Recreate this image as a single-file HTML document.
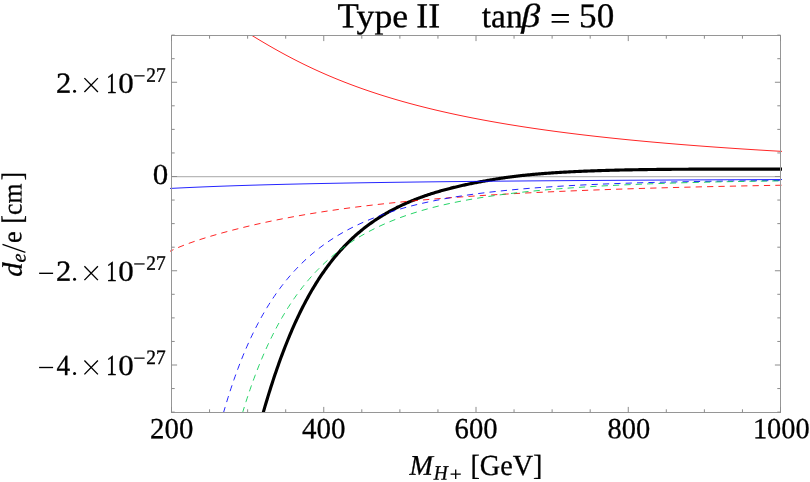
<!DOCTYPE html>
<html><head><meta charset="utf-8"><title>plot</title>
<style>
html,body{margin:0;padding:0;background:#fff;}
body{width:810px;height:482px;overflow:hidden;}
svg{display:block;will-change:transform;}
text{font-family:"Liberation Serif",serif;fill:#000;stroke:#000;stroke-width:0.3px;}
</style></head><body>
<svg width="810" height="482" viewBox="0 0 810 482">
<rect width="810" height="482" fill="#fff"/>
<defs><clipPath id="c"><rect x="170.0" y="35.5" width="612.0" height="377.3"/></clipPath></defs>
<line x1="171.5" x2="780.5" y1="176.7" y2="176.7" stroke="#b9b9b9" stroke-width="1.2"/>
<g clip-path="url(#c)" fill="none" stroke-linejoin="round">
<path d="M262.67,414.47 L263.00,413.31 L264.00,409.84 L265.00,406.41 L266.00,403.03 L267.00,399.70 L268.00,396.41 L269.00,393.16 L270.00,389.96 L271.00,386.80 L272.00,383.69 L273.00,380.62 L274.00,377.59 L275.00,374.61 L276.00,371.67 L277.00,368.76 L278.00,365.91 L279.00,363.09 L280.00,360.31 L281.00,357.57 L282.00,354.88 L283.00,352.22 L284.00,349.60 L285.00,347.01 L286.00,344.47 L287.00,341.96 L288.00,339.49 L289.00,337.06 L290.00,334.66 L291.00,332.30 L292.00,329.97 L293.00,327.68 L294.00,325.42 L295.00,323.19 L296.00,321.00 L297.00,318.84 L298.00,316.72 L299.00,314.62 L300.00,312.56 L301.00,310.52 L302.00,308.52 L303.00,306.55 L304.00,304.60 L305.00,302.69 L306.00,300.80 L307.00,298.95 L308.00,297.12 L309.00,295.31 L310.00,293.54 L311.00,291.79 L312.00,290.07 L313.00,288.37 L314.00,286.70 L315.00,285.06 L316.00,283.43 L317.00,281.84 L318.00,280.27 L319.00,278.72 L320.00,277.19 L321.00,275.69 L322.00,274.21 L323.00,272.75 L324.00,271.31 L325.00,269.90 L326.00,268.50 L327.00,267.13 L328.00,265.78 L329.00,264.45 L330.00,263.13 L331.00,261.84 L332.00,260.57 L333.00,259.31 L334.00,258.08 L335.00,256.86 L336.00,255.66 L337.00,254.48 L338.00,253.31 L339.00,252.17 L340.00,251.04 L341.00,249.92 L342.00,248.82 L343.00,247.74 L344.00,246.68 L345.00,245.63 L346.00,244.60 L347.00,243.58 L348.00,242.57 L349.00,241.58 L350.00,240.61 L351.00,239.65 L352.00,238.70 L353.00,237.77 L354.00,236.85 L355.00,235.94 L356.00,235.05 L357.00,234.17 L358.00,233.30 L359.00,232.45 L360.00,231.61 L361.00,230.78 L362.00,229.96 L363.00,229.15 L364.00,228.36 L365.00,227.57 L366.00,226.80 L367.00,226.04 L368.00,225.29 L369.00,224.55 L370.00,223.82 L371.00,223.10 L372.00,222.39 L373.00,221.69 L374.00,221.00 L375.00,220.32 L376.00,219.65 L377.00,218.99 L378.00,218.34 L379.00,217.69 L380.00,217.06 L381.00,216.44 L382.00,215.82 L383.00,215.21 L384.00,214.61 L385.00,214.02 L386.00,213.44 L387.00,212.86 L388.00,212.30 L389.00,211.74 L390.00,211.19 L391.00,210.64 L392.00,210.10 L393.00,209.57 L394.00,209.05 L395.00,208.54 L396.00,208.03 L397.00,207.53 L398.00,207.03 L399.00,206.54 L400.00,206.06 L401.00,205.59 L402.00,205.12 L403.00,204.65 L404.00,204.20 L405.00,203.75 L406.00,203.30 L407.00,202.86 L408.00,202.43 L409.00,202.00 L410.00,201.58 L411.00,201.16 L412.00,200.75 L413.00,200.34 L414.00,199.94 L415.00,199.55 L416.00,199.16 L417.00,198.77 L418.00,198.39 L419.00,198.02 L420.00,197.64 L421.00,197.28 L422.00,196.92 L423.00,196.56 L424.00,196.21 L425.00,195.86 L426.00,195.51 L427.00,195.17 L428.00,194.84 L429.00,194.51 L430.00,194.18 L431.00,193.86 L432.00,193.54 L433.00,193.22 L434.00,192.91 L435.00,192.60 L436.00,192.30 L437.00,192.00 L438.00,191.70 L439.00,191.41 L440.00,191.12 L441.00,190.83 L442.00,190.55 L443.00,190.27 L444.00,189.99 L445.00,189.72 L446.00,189.45 L447.00,189.18 L448.00,188.92 L449.00,188.66 L450.00,188.40 L451.00,188.15 L452.00,187.90 L453.00,187.65 L454.00,187.40 L455.00,187.16 L456.00,186.92 L457.00,186.68 L458.00,186.45 L459.00,186.21 L460.00,185.98 L461.00,185.76 L462.00,185.53 L463.00,185.31 L464.00,185.09 L465.00,184.87 L466.00,184.66 L467.00,184.45 L468.00,184.24 L469.00,184.03 L470.00,183.82 L471.00,183.62 L472.00,183.41 L473.00,183.21 L474.00,183.01 L475.00,182.82 L476.00,182.62 L477.00,182.43 L478.00,182.24 L479.00,182.04 L480.00,181.86 L481.00,181.67 L482.00,181.48 L483.00,181.30 L484.00,181.12 L485.00,180.93 L486.00,180.76 L487.00,180.58 L488.00,180.40 L489.00,180.23 L490.00,180.06 L491.00,179.88 L492.00,179.72 L493.00,179.55 L494.00,179.38 L495.00,179.22 L496.00,179.06 L497.00,178.90 L498.00,178.74 L499.00,178.58 L500.00,178.43 L501.00,178.27 L502.00,178.12 L503.00,177.97 L504.00,177.83 L505.00,177.68 L506.00,177.54 L507.00,177.40 L508.00,177.26 L509.00,177.12 L510.00,176.99 L511.00,176.86 L512.00,176.73 L513.00,176.60 L514.00,176.47 L515.00,176.35 L516.00,176.22 L517.00,176.10 L518.00,175.99 L519.00,175.87 L520.00,175.76 L521.00,175.64 L522.00,175.53 L523.00,175.42 L524.00,175.32 L525.00,175.21 L526.00,175.11 L527.00,175.01 L528.00,174.91 L529.00,174.81 L530.00,174.72 L531.00,174.62 L532.00,174.53 L533.00,174.44 L534.00,174.35 L535.00,174.26 L536.00,174.17 L537.00,174.09 L538.00,174.00 L539.00,173.92 L540.00,173.84 L541.00,173.76 L542.00,173.68 L543.00,173.60 L544.00,173.52 L545.00,173.44 L546.00,173.37 L547.00,173.29 L548.00,173.22 L549.00,173.14 L550.00,173.07 L551.00,173.00 L552.00,172.93 L553.00,172.87 L554.00,172.80 L555.00,172.73 L556.00,172.67 L557.00,172.60 L558.00,172.54 L559.00,172.48 L560.00,172.42 L561.00,172.36 L562.00,172.30 L563.00,172.24 L564.00,172.18 L565.00,172.12 L566.00,172.07 L567.00,172.01 L568.00,171.96 L569.00,171.90 L570.00,171.85 L571.00,171.80 L572.00,171.75 L573.00,171.70 L574.00,171.65 L575.00,171.60 L576.00,171.55 L577.00,171.50 L578.00,171.46 L579.00,171.41 L580.00,171.37 L581.00,171.32 L582.00,171.28 L583.00,171.24 L584.00,171.19 L585.00,171.15 L586.00,171.11 L587.00,171.07 L588.00,171.03 L589.00,170.99 L590.00,170.95 L591.00,170.92 L592.00,170.88 L593.00,170.84 L594.00,170.81 L595.00,170.77 L596.00,170.74 L597.00,170.70 L598.00,170.67 L599.00,170.64 L600.00,170.60 L601.00,170.57 L602.00,170.54 L603.00,170.51 L604.00,170.48 L605.00,170.45 L606.00,170.42 L607.00,170.39 L608.00,170.36 L609.00,170.33 L610.00,170.30 L611.00,170.28 L612.00,170.25 L613.00,170.22 L614.00,170.20 L615.00,170.17 L616.00,170.15 L617.00,170.12 L618.00,170.10 L619.00,170.08 L620.00,170.05 L621.00,170.03 L622.00,170.01 L623.00,169.99 L624.00,169.97 L625.00,169.94 L626.00,169.92 L627.00,169.90 L628.00,169.88 L629.00,169.86 L630.00,169.84 L631.00,169.82 L632.00,169.81 L633.00,169.79 L634.00,169.77 L635.00,169.75 L636.00,169.73 L637.00,169.72 L638.00,169.70 L639.00,169.68 L640.00,169.67 L641.00,169.65 L642.00,169.64 L643.00,169.62 L644.00,169.61 L645.00,169.59 L646.00,169.58 L647.00,169.57 L648.00,169.55 L649.00,169.54 L650.00,169.53 L651.00,169.51 L652.00,169.50 L653.00,169.49 L654.00,169.48 L655.00,169.46 L656.00,169.45 L657.00,169.44 L658.00,169.43 L659.00,169.42 L660.00,169.41 L661.00,169.40 L662.00,169.39 L663.00,169.38 L664.00,169.37 L665.00,169.36 L666.00,169.35 L667.00,169.34 L668.00,169.33 L669.00,169.32 L670.00,169.31 L671.00,169.31 L672.00,169.30 L673.00,169.29 L674.00,169.28 L675.00,169.28 L676.00,169.27 L677.00,169.26 L678.00,169.25 L679.00,169.25 L680.00,169.24 L681.00,169.23 L682.00,169.23 L683.00,169.22 L684.00,169.22 L685.00,169.21 L686.00,169.21 L687.00,169.20 L688.00,169.20 L689.00,169.19 L690.00,169.19 L691.00,169.18 L692.00,169.18 L693.00,169.17 L694.00,169.17 L695.00,169.16 L696.00,169.16 L697.00,169.15 L698.00,169.15 L699.00,169.15 L700.00,169.14 L701.00,169.14 L702.00,169.14 L703.00,169.13 L704.00,169.13 L705.00,169.13 L706.00,169.13 L707.00,169.12 L708.00,169.12 L709.00,169.12 L710.00,169.12 L711.00,169.11 L712.00,169.11 L713.00,169.11 L714.00,169.11 L715.00,169.11 L716.00,169.10 L717.00,169.10 L718.00,169.10 L719.00,169.10 L720.00,169.10 L721.00,169.10 L722.00,169.10 L723.00,169.10 L724.00,169.09 L725.00,169.09 L726.00,169.09 L727.00,169.09 L728.00,169.09 L729.00,169.09 L730.00,169.09 L731.00,169.09 L732.00,169.09 L733.00,169.09 L734.00,169.09 L735.00,169.09 L736.00,169.09 L737.00,169.09 L738.00,169.09 L739.00,169.09 L740.00,169.09 L741.00,169.09 L742.00,169.09 L743.00,169.09 L744.00,169.09 L745.00,169.09 L746.00,169.09 L747.00,169.09 L748.00,169.09 L749.00,169.10 L750.00,169.10 L751.00,169.10 L752.00,169.10 L753.00,169.10 L754.00,169.10 L755.00,169.10 L756.00,169.10 L757.00,169.10 L758.00,169.11 L759.00,169.11 L760.00,169.11 L761.00,169.11 L762.00,169.11 L763.00,169.11 L764.00,169.11 L765.00,169.12 L766.00,169.12 L767.00,169.12 L768.00,169.12 L769.00,169.12 L770.00,169.12 L771.00,169.13 L772.00,169.13 L773.00,169.13 L774.00,169.13 L775.00,169.13 L776.00,169.14 L777.00,169.14 L778.00,169.14 L779.00,169.14 L780.00,169.14 L781.00,169.15 L782.00,169.15" stroke="#000" stroke-width="3.15"/>
<path d="M251.18,35.00 L252.00,35.51 L253.00,36.12 L254.00,36.73 L255.00,37.33 L256.00,37.94 L257.00,38.55 L258.00,39.15 L259.00,39.75 L260.00,40.35 L261.00,40.95 L262.00,41.54 L263.00,42.13 L264.00,42.72 L265.00,43.31 L266.00,43.90 L267.00,44.48 L268.00,45.07 L269.00,45.65 L270.00,46.22 L271.00,46.80 L272.00,47.37 L273.00,47.94 L274.00,48.51 L275.00,49.08 L276.00,49.64 L277.00,50.20 L278.00,50.76 L279.00,51.32 L280.00,51.87 L281.00,52.42 L282.00,52.97 L283.00,53.51 L284.00,54.06 L285.00,54.60 L286.00,55.14 L287.00,55.67 L288.00,56.20 L289.00,56.73 L290.00,57.26 L291.00,57.79 L292.00,58.31 L293.00,58.83 L294.00,59.34 L295.00,59.86 L296.00,60.37 L297.00,60.88 L298.00,61.38 L299.00,61.89 L300.00,62.39 L301.00,62.89 L302.00,63.38 L303.00,63.88 L304.00,64.37 L305.00,64.85 L306.00,65.34 L307.00,65.82 L308.00,66.30 L309.00,66.78 L310.00,67.25 L311.00,67.73 L312.00,68.20 L313.00,68.66 L314.00,69.13 L315.00,69.59 L316.00,70.05 L317.00,70.51 L318.00,70.96 L319.00,71.41 L320.00,71.86 L321.00,72.31 L322.00,72.75 L323.00,73.20 L324.00,73.64 L325.00,74.07 L326.00,74.51 L327.00,74.94 L328.00,75.37 L329.00,75.80 L330.00,76.22 L331.00,76.64 L332.00,77.06 L333.00,77.48 L334.00,77.90 L335.00,78.31 L336.00,78.72 L337.00,79.13 L338.00,79.54 L339.00,79.94 L340.00,80.34 L341.00,80.74 L342.00,81.14 L343.00,81.53 L344.00,81.93 L345.00,82.32 L346.00,82.70 L347.00,83.09 L348.00,83.47 L349.00,83.86 L350.00,84.24 L351.00,84.61 L352.00,84.99 L353.00,85.36 L354.00,85.73 L355.00,86.10 L356.00,86.47 L357.00,86.83 L358.00,87.20 L359.00,87.56 L360.00,87.91 L361.00,88.27 L362.00,88.63 L363.00,88.98 L364.00,89.33 L365.00,89.68 L366.00,90.02 L367.00,90.37 L368.00,90.71 L369.00,91.05 L370.00,91.39 L371.00,91.73 L372.00,92.06 L373.00,92.40 L374.00,92.73 L375.00,93.06 L376.00,93.39 L377.00,93.71 L378.00,94.04 L379.00,94.36 L380.00,94.68 L381.00,95.00 L382.00,95.31 L383.00,95.63 L384.00,95.94 L385.00,96.25 L386.00,96.56 L387.00,96.87 L388.00,97.18 L389.00,97.48 L390.00,97.79 L391.00,98.09 L392.00,98.39 L393.00,98.69 L394.00,98.98 L395.00,99.28 L396.00,99.57 L397.00,99.86 L398.00,100.15 L399.00,100.44 L400.00,100.73 L401.00,101.01 L402.00,101.30 L403.00,101.58 L404.00,101.86 L405.00,102.14 L406.00,102.42 L407.00,102.70 L408.00,102.97 L409.00,103.24 L410.00,103.52 L411.00,103.79 L412.00,104.05 L413.00,104.32 L414.00,104.59 L415.00,104.85 L416.00,105.12 L417.00,105.38 L418.00,105.64 L419.00,105.90 L420.00,106.15 L421.00,106.41 L422.00,106.67 L423.00,106.92 L424.00,107.17 L425.00,107.42 L426.00,107.67 L427.00,107.92 L428.00,108.17 L429.00,108.41 L430.00,108.66 L431.00,108.90 L432.00,109.14 L433.00,109.38 L434.00,109.62 L435.00,109.86 L436.00,110.10 L437.00,110.33 L438.00,110.57 L439.00,110.80 L440.00,111.03 L441.00,111.26 L442.00,111.49 L443.00,111.72 L444.00,111.95 L445.00,112.17 L446.00,112.40 L447.00,112.62 L448.00,112.84 L449.00,113.07 L450.00,113.29 L451.00,113.50 L452.00,113.72 L453.00,113.94 L454.00,114.16 L455.00,114.37 L456.00,114.58 L457.00,114.80 L458.00,115.01 L459.00,115.22 L460.00,115.43 L461.00,115.64 L462.00,115.84 L463.00,116.05 L464.00,116.25 L465.00,116.46 L466.00,116.66 L467.00,116.86 L468.00,117.07 L469.00,117.27 L470.00,117.46 L471.00,117.66 L472.00,117.86 L473.00,118.06 L474.00,118.25 L475.00,118.45 L476.00,118.64 L477.00,118.83 L478.00,119.02 L479.00,119.21 L480.00,119.40 L481.00,119.59 L482.00,119.78 L483.00,119.97 L484.00,120.15 L485.00,120.34 L486.00,120.52 L487.00,120.70 L488.00,120.89 L489.00,121.07 L490.00,121.25 L491.00,121.43 L492.00,121.61 L493.00,121.78 L494.00,121.96 L495.00,122.14 L496.00,122.31 L497.00,122.49 L498.00,122.66 L499.00,122.84 L500.00,123.01 L501.00,123.18 L502.00,123.35 L503.00,123.52 L504.00,123.69 L505.00,123.86 L506.00,124.02 L507.00,124.19 L508.00,124.36 L509.00,124.52 L510.00,124.68 L511.00,124.85 L512.00,125.01 L513.00,125.17 L514.00,125.33 L515.00,125.49 L516.00,125.65 L517.00,125.81 L518.00,125.97 L519.00,126.13 L520.00,126.29 L521.00,126.44 L522.00,126.60 L523.00,126.75 L524.00,126.91 L525.00,127.06 L526.00,127.21 L527.00,127.36 L528.00,127.51 L529.00,127.67 L530.00,127.81 L531.00,127.96 L532.00,128.11 L533.00,128.26 L534.00,128.41 L535.00,128.55 L536.00,128.70 L537.00,128.84 L538.00,128.99 L539.00,129.13 L540.00,129.28 L541.00,129.42 L542.00,129.56 L543.00,129.70 L544.00,129.84 L545.00,129.98 L546.00,130.12 L547.00,130.26 L548.00,130.40 L549.00,130.54 L550.00,130.67 L551.00,130.81 L552.00,130.95 L553.00,131.08 L554.00,131.22 L555.00,131.35 L556.00,131.48 L557.00,131.62 L558.00,131.75 L559.00,131.88 L560.00,132.01 L561.00,132.14 L562.00,132.27 L563.00,132.40 L564.00,132.53 L565.00,132.66 L566.00,132.79 L567.00,132.91 L568.00,133.04 L569.00,133.17 L570.00,133.29 L571.00,133.42 L572.00,133.54 L573.00,133.67 L574.00,133.79 L575.00,133.91 L576.00,134.03 L577.00,134.16 L578.00,134.28 L579.00,134.40 L580.00,134.52 L581.00,134.64 L582.00,134.76 L583.00,134.88 L584.00,135.00 L585.00,135.11 L586.00,135.23 L587.00,135.35 L588.00,135.46 L589.00,135.58 L590.00,135.70 L591.00,135.81 L592.00,135.93 L593.00,136.04 L594.00,136.15 L595.00,136.27 L596.00,136.38 L597.00,136.49 L598.00,136.60 L599.00,136.71 L600.00,136.82 L601.00,136.93 L602.00,137.04 L603.00,137.15 L604.00,137.26 L605.00,137.37 L606.00,137.48 L607.00,137.59 L608.00,137.70 L609.00,137.80 L610.00,137.91 L611.00,138.01 L612.00,138.12 L613.00,138.23 L614.00,138.33 L615.00,138.43 L616.00,138.54 L617.00,138.64 L618.00,138.74 L619.00,138.85 L620.00,138.95 L621.00,139.05 L622.00,139.15 L623.00,139.25 L624.00,139.35 L625.00,139.45 L626.00,139.55 L627.00,139.65 L628.00,139.75 L629.00,139.85 L630.00,139.95 L631.00,140.05 L632.00,140.15 L633.00,140.24 L634.00,140.34 L635.00,140.44 L636.00,140.53 L637.00,140.63 L638.00,140.72 L639.00,140.82 L640.00,140.91 L641.00,141.01 L642.00,141.10 L643.00,141.19 L644.00,141.29 L645.00,141.38 L646.00,141.47 L647.00,141.56 L648.00,141.66 L649.00,141.75 L650.00,141.84 L651.00,141.93 L652.00,142.02 L653.00,142.11 L654.00,142.20 L655.00,142.29 L656.00,142.38 L657.00,142.47 L658.00,142.55 L659.00,142.64 L660.00,142.73 L661.00,142.82 L662.00,142.90 L663.00,142.99 L664.00,143.08 L665.00,143.16 L666.00,143.25 L667.00,143.33 L668.00,143.42 L669.00,143.50 L670.00,143.59 L671.00,143.67 L672.00,143.76 L673.00,143.84 L674.00,143.92 L675.00,144.01 L676.00,144.09 L677.00,144.17 L678.00,144.25 L679.00,144.33 L680.00,144.42 L681.00,144.50 L682.00,144.58 L683.00,144.66 L684.00,144.74 L685.00,144.82 L686.00,144.90 L687.00,144.98 L688.00,145.06 L689.00,145.13 L690.00,145.21 L691.00,145.29 L692.00,145.37 L693.00,145.45 L694.00,145.52 L695.00,145.60 L696.00,145.68 L697.00,145.75 L698.00,145.83 L699.00,145.91 L700.00,145.98 L701.00,146.06 L702.00,146.13 L703.00,146.21 L704.00,146.28 L705.00,146.36 L706.00,146.43 L707.00,146.51 L708.00,146.58 L709.00,146.65 L710.00,146.73 L711.00,146.80 L712.00,146.87 L713.00,146.94 L714.00,147.02 L715.00,147.09 L716.00,147.16 L717.00,147.23 L718.00,147.30 L719.00,147.37 L720.00,147.44 L721.00,147.51 L722.00,147.58 L723.00,147.65 L724.00,147.72 L725.00,147.79 L726.00,147.86 L727.00,147.93 L728.00,148.00 L729.00,148.07 L730.00,148.14 L731.00,148.20 L732.00,148.27 L733.00,148.34 L734.00,148.41 L735.00,148.47 L736.00,148.54 L737.00,148.61 L738.00,148.67 L739.00,148.74 L740.00,148.81 L741.00,148.87 L742.00,148.94 L743.00,149.00 L744.00,149.07 L745.00,149.13 L746.00,149.20 L747.00,149.26 L748.00,149.32 L749.00,149.39 L750.00,149.45 L751.00,149.52 L752.00,149.58 L753.00,149.64 L754.00,149.71 L755.00,149.77 L756.00,149.83 L757.00,149.89 L758.00,149.96 L759.00,150.02 L760.00,150.08 L761.00,150.14 L762.00,150.20 L763.00,150.26 L764.00,150.32 L765.00,150.38 L766.00,150.44 L767.00,150.51 L768.00,150.57 L769.00,150.63 L770.00,150.68 L771.00,150.74 L772.00,150.80 L773.00,150.86 L774.00,150.92 L775.00,150.98 L776.00,151.04 L777.00,151.10 L778.00,151.16 L779.00,151.21 L780.00,151.27 L781.00,151.33 L782.00,151.39" stroke="#ff0000" stroke-width="0.86"/>
<path d="M170.00,188.45 L171.00,188.40 L172.00,188.35 L173.00,188.30 L174.00,188.25 L175.00,188.20 L176.00,188.15 L177.00,188.10 L178.00,188.05 L179.00,188.00 L180.00,187.95 L181.00,187.90 L182.00,187.86 L183.00,187.81 L184.00,187.76 L185.00,187.71 L186.00,187.67 L187.00,187.62 L188.00,187.58 L189.00,187.53 L190.00,187.48 L191.00,187.44 L192.00,187.39 L193.00,187.35 L194.00,187.31 L195.00,187.26 L196.00,187.22 L197.00,187.17 L198.00,187.13 L199.00,187.09 L200.00,187.05 L201.00,187.00 L202.00,186.96 L203.00,186.92 L204.00,186.88 L205.00,186.84 L206.00,186.80 L207.00,186.76 L208.00,186.72 L209.00,186.68 L210.00,186.64 L211.00,186.60 L212.00,186.56 L213.00,186.52 L214.00,186.48 L215.00,186.44 L216.00,186.41 L217.00,186.37 L218.00,186.33 L219.00,186.29 L220.00,186.26 L221.00,186.22 L222.00,186.18 L223.00,186.15 L224.00,186.11 L225.00,186.08 L226.00,186.04 L227.00,186.00 L228.00,185.97 L229.00,185.94 L230.00,185.90 L231.00,185.87 L232.00,185.83 L233.00,185.80 L234.00,185.76 L235.00,185.73 L236.00,185.70 L237.00,185.67 L238.00,185.63 L239.00,185.60 L240.00,185.57 L241.00,185.54 L242.00,185.50 L243.00,185.47 L244.00,185.44 L245.00,185.41 L246.00,185.38 L247.00,185.35 L248.00,185.32 L249.00,185.29 L250.00,185.26 L251.00,185.23 L252.00,185.20 L253.00,185.17 L254.00,185.14 L255.00,185.11 L256.00,185.08 L257.00,185.05 L258.00,185.02 L259.00,184.99 L260.00,184.96 L261.00,184.94 L262.00,184.91 L263.00,184.88 L264.00,184.85 L265.00,184.82 L266.00,184.80 L267.00,184.77 L268.00,184.74 L269.00,184.72 L270.00,184.69 L271.00,184.66 L272.00,184.64 L273.00,184.61 L274.00,184.58 L275.00,184.56 L276.00,184.53 L277.00,184.51 L278.00,184.48 L279.00,184.46 L280.00,184.43 L281.00,184.41 L282.00,184.38 L283.00,184.36 L284.00,184.33 L285.00,184.31 L286.00,184.28 L287.00,184.26 L288.00,184.24 L289.00,184.21 L290.00,184.19 L291.00,184.16 L292.00,184.14 L293.00,184.12 L294.00,184.10 L295.00,184.07 L296.00,184.05 L297.00,184.03 L298.00,184.00 L299.00,183.98 L300.00,183.96 L301.00,183.94 L302.00,183.92 L303.00,183.89 L304.00,183.87 L305.00,183.85 L306.00,183.83 L307.00,183.81 L308.00,183.79 L309.00,183.76 L310.00,183.74 L311.00,183.72 L312.00,183.70 L313.00,183.68 L314.00,183.66 L315.00,183.64 L316.00,183.62 L317.00,183.60 L318.00,183.58 L319.00,183.56 L320.00,183.54 L321.00,183.52 L322.00,183.50 L323.00,183.48 L324.00,183.46 L325.00,183.44 L326.00,183.42 L327.00,183.40 L328.00,183.38 L329.00,183.36 L330.00,183.35 L331.00,183.33 L332.00,183.31 L333.00,183.29 L334.00,183.27 L335.00,183.25 L336.00,183.23 L337.00,183.22 L338.00,183.20 L339.00,183.18 L340.00,183.16 L341.00,183.15 L342.00,183.13 L343.00,183.11 L344.00,183.09 L345.00,183.07 L346.00,183.06 L347.00,183.04 L348.00,183.02 L349.00,183.01 L350.00,182.99 L351.00,182.97 L352.00,182.96 L353.00,182.94 L354.00,182.92 L355.00,182.91 L356.00,182.89 L357.00,182.87 L358.00,182.86 L359.00,182.84 L360.00,182.82 L361.00,182.81 L362.00,182.79 L363.00,182.78 L364.00,182.76 L365.00,182.74 L366.00,182.73 L367.00,182.71 L368.00,182.70 L369.00,182.68 L370.00,182.67 L371.00,182.65 L372.00,182.64 L373.00,182.62 L374.00,182.61 L375.00,182.59 L376.00,182.58 L377.00,182.56 L378.00,182.55 L379.00,182.53 L380.00,182.52 L381.00,182.50 L382.00,182.49 L383.00,182.47 L384.00,182.46 L385.00,182.44 L386.00,182.43 L387.00,182.42 L388.00,182.40 L389.00,182.39 L390.00,182.37 L391.00,182.36 L392.00,182.35 L393.00,182.33 L394.00,182.32 L395.00,182.31 L396.00,182.29 L397.00,182.28 L398.00,182.27 L399.00,182.25 L400.00,182.24 L401.00,182.23 L402.00,182.21 L403.00,182.20 L404.00,182.19 L405.00,182.17 L406.00,182.16 L407.00,182.15 L408.00,182.13 L409.00,182.12 L410.00,182.11 L411.00,182.10 L412.00,182.08 L413.00,182.07 L414.00,182.06 L415.00,182.05 L416.00,182.03 L417.00,182.02 L418.00,182.01 L419.00,182.00 L420.00,181.98 L421.00,181.97 L422.00,181.96 L423.00,181.95 L424.00,181.94 L425.00,181.92 L426.00,181.91 L427.00,181.90 L428.00,181.89 L429.00,181.88 L430.00,181.86 L431.00,181.85 L432.00,181.84 L433.00,181.83 L434.00,181.82 L435.00,181.81 L436.00,181.80 L437.00,181.78 L438.00,181.77 L439.00,181.76 L440.00,181.75 L441.00,181.74 L442.00,181.73 L443.00,181.72 L444.00,181.71 L445.00,181.70 L446.00,181.68 L447.00,181.67 L448.00,181.66 L449.00,181.65 L450.00,181.64 L451.00,181.63 L452.00,181.62 L453.00,181.61 L454.00,181.60 L455.00,181.59 L456.00,181.58 L457.00,181.57 L458.00,181.56 L459.00,181.55 L460.00,181.54 L461.00,181.53 L462.00,181.52 L463.00,181.51 L464.00,181.50 L465.00,181.49 L466.00,181.48 L467.00,181.47 L468.00,181.46 L469.00,181.45 L470.00,181.44 L471.00,181.43 L472.00,181.42 L473.00,181.41 L474.00,181.40 L475.00,181.39 L476.00,181.38 L477.00,181.37 L478.00,181.36 L479.00,181.35 L480.00,181.34 L481.00,181.33 L482.00,181.32 L483.00,181.31 L484.00,181.30 L485.00,181.29 L486.00,181.28 L487.00,181.27 L488.00,181.26 L489.00,181.26 L490.00,181.25 L491.00,181.24 L492.00,181.23 L493.00,181.22 L494.00,181.21 L495.00,181.20 L496.00,181.19 L497.00,181.18 L498.00,181.17 L499.00,181.17 L500.00,181.16 L501.00,181.15 L502.00,181.14 L503.00,181.13 L504.00,181.12 L505.00,181.11 L506.00,181.10 L507.00,181.10 L508.00,181.09 L509.00,181.08 L510.00,181.07 L511.00,181.06 L512.00,181.05 L513.00,181.05 L514.00,181.04 L515.00,181.03 L516.00,181.02 L517.00,181.01 L518.00,181.00 L519.00,181.00 L520.00,180.99 L521.00,180.98 L522.00,180.97 L523.00,180.96 L524.00,180.96 L525.00,180.95 L526.00,180.94 L527.00,180.93 L528.00,180.92 L529.00,180.92 L530.00,180.91 L531.00,180.90 L532.00,180.89 L533.00,180.88 L534.00,180.88 L535.00,180.87 L536.00,180.86 L537.00,180.85 L538.00,180.85 L539.00,180.84 L540.00,180.83 L541.00,180.82 L542.00,180.81 L543.00,180.81 L544.00,180.80 L545.00,180.79 L546.00,180.78 L547.00,180.78 L548.00,180.77 L549.00,180.76 L550.00,180.76 L551.00,180.75 L552.00,180.74 L553.00,180.73 L554.00,180.73 L555.00,180.72 L556.00,180.71 L557.00,180.70 L558.00,180.70 L559.00,180.69 L560.00,180.68 L561.00,180.68 L562.00,180.67 L563.00,180.66 L564.00,180.65 L565.00,180.65 L566.00,180.64 L567.00,180.63 L568.00,180.63 L569.00,180.62 L570.00,180.61 L571.00,180.61 L572.00,180.60 L573.00,180.59 L574.00,180.59 L575.00,180.58 L576.00,180.57 L577.00,180.57 L578.00,180.56 L579.00,180.55 L580.00,180.55 L581.00,180.54 L582.00,180.53 L583.00,180.53 L584.00,180.52 L585.00,180.51 L586.00,180.51 L587.00,180.50 L588.00,180.49 L589.00,180.49 L590.00,180.48 L591.00,180.47 L592.00,180.47 L593.00,180.46 L594.00,180.46 L595.00,180.45 L596.00,180.44 L597.00,180.44 L598.00,180.43 L599.00,180.42 L600.00,180.42 L601.00,180.41 L602.00,180.40 L603.00,180.40 L604.00,180.39 L605.00,180.39 L606.00,180.38 L607.00,180.37 L608.00,180.37 L609.00,180.36 L610.00,180.36 L611.00,180.35 L612.00,180.34 L613.00,180.34 L614.00,180.33 L615.00,180.33 L616.00,180.32 L617.00,180.31 L618.00,180.31 L619.00,180.30 L620.00,180.30 L621.00,180.29 L622.00,180.29 L623.00,180.28 L624.00,180.27 L625.00,180.27 L626.00,180.26 L627.00,180.26 L628.00,180.25 L629.00,180.24 L630.00,180.24 L631.00,180.23 L632.00,180.23 L633.00,180.22 L634.00,180.22 L635.00,180.21 L636.00,180.21 L637.00,180.20 L638.00,180.19 L639.00,180.19 L640.00,180.18 L641.00,180.18 L642.00,180.17 L643.00,180.17 L644.00,180.16 L645.00,180.16 L646.00,180.15 L647.00,180.15 L648.00,180.14 L649.00,180.13 L650.00,180.13 L651.00,180.12 L652.00,180.12 L653.00,180.11 L654.00,180.11 L655.00,180.10 L656.00,180.10 L657.00,180.09 L658.00,180.09 L659.00,180.08 L660.00,180.08 L661.00,180.07 L662.00,180.07 L663.00,180.06 L664.00,180.06 L665.00,180.05 L666.00,180.05 L667.00,180.04 L668.00,180.04 L669.00,180.03 L670.00,180.03 L671.00,180.02 L672.00,180.02 L673.00,180.01 L674.00,180.01 L675.00,180.00 L676.00,180.00 L677.00,179.99 L678.00,179.99 L679.00,179.98 L680.00,179.98 L681.00,179.97 L682.00,179.97 L683.00,179.96 L684.00,179.96 L685.00,179.95 L686.00,179.95 L687.00,179.94 L688.00,179.94 L689.00,179.93 L690.00,179.93 L691.00,179.92 L692.00,179.92 L693.00,179.91 L694.00,179.91 L695.00,179.90 L696.00,179.90 L697.00,179.89 L698.00,179.89 L699.00,179.89 L700.00,179.88 L701.00,179.88 L702.00,179.87 L703.00,179.87 L704.00,179.86 L705.00,179.86 L706.00,179.85 L707.00,179.85 L708.00,179.84 L709.00,179.84 L710.00,179.83 L711.00,179.83 L712.00,179.83 L713.00,179.82 L714.00,179.82 L715.00,179.81 L716.00,179.81 L717.00,179.80 L718.00,179.80 L719.00,179.79 L720.00,179.79 L721.00,179.79 L722.00,179.78 L723.00,179.78 L724.00,179.77 L725.00,179.77 L726.00,179.76 L727.00,179.76 L728.00,179.76 L729.00,179.75 L730.00,179.75 L731.00,179.74 L732.00,179.74 L733.00,179.73 L734.00,179.73 L735.00,179.73 L736.00,179.72 L737.00,179.72 L738.00,179.71 L739.00,179.71 L740.00,179.71 L741.00,179.70 L742.00,179.70 L743.00,179.69 L744.00,179.69 L745.00,179.68 L746.00,179.68 L747.00,179.68 L748.00,179.67 L749.00,179.67 L750.00,179.66 L751.00,179.66 L752.00,179.66 L753.00,179.65 L754.00,179.65 L755.00,179.64 L756.00,179.64 L757.00,179.64 L758.00,179.63 L759.00,179.63 L760.00,179.62 L761.00,179.62 L762.00,179.62 L763.00,179.61 L764.00,179.61 L765.00,179.60 L766.00,179.60 L767.00,179.60 L768.00,179.59 L769.00,179.59 L770.00,179.58 L771.00,179.58 L772.00,179.58 L773.00,179.57 L774.00,179.57 L775.00,179.57 L776.00,179.56 L777.00,179.56 L778.00,179.55 L779.00,179.55 L780.00,179.55 L781.00,179.54 L782.00,179.54" stroke="#0000ff" stroke-width="0.86"/>
<path d="M170.00,251.30 L171.00,250.81 L172.00,250.32 L173.00,249.85 L174.00,249.39 L175.00,248.93 L176.00,248.49 L177.00,248.05 L178.00,247.62 L179.00,247.20 L180.00,246.78 L181.00,246.38 L182.00,245.97 L183.00,245.58 L184.00,245.19 L185.00,244.81 L186.00,244.43 L187.00,244.05 L188.00,243.68 L189.00,243.32 L190.00,242.96 L191.00,242.60 L192.00,242.25 L193.00,241.90 L194.00,241.56 L195.00,241.21 L196.00,240.88 L197.00,240.54 L198.00,240.21 L199.00,239.88 L200.00,239.55 L201.00,239.23 L202.00,238.91 L203.00,238.59 L204.00,238.28 L205.00,237.97 L206.00,237.66 L207.00,237.35 L208.00,237.04 L209.00,236.74 L210.00,236.44 L211.00,236.14 L212.00,235.84 L213.00,235.55 L214.00,235.26 L215.00,234.96 L216.00,234.68 L217.00,234.39 L218.00,234.10 L219.00,233.82 L220.00,233.54 L221.00,233.26 L222.00,232.98 L223.00,232.70 L224.00,232.43 L225.00,232.16 L226.00,231.88 L227.00,231.61 L228.00,231.35 L229.00,231.08 L230.00,230.81 L231.00,230.55 L232.00,230.29 L233.00,230.03 L234.00,229.77 L235.00,229.51 L236.00,229.25 L237.00,229.00 L238.00,228.75 L239.00,228.49 L240.00,228.24 L241.00,227.99 L242.00,227.75 L243.00,227.50 L244.00,227.26 L245.00,227.01 L246.00,226.77 L247.00,226.53 L248.00,226.29 L249.00,226.05 L250.00,225.82 L251.00,225.58 L252.00,225.35 L253.00,225.11 L254.00,224.88 L255.00,224.65 L256.00,224.42 L257.00,224.20 L258.00,223.97 L259.00,223.74 L260.00,223.52 L261.00,223.30 L262.00,223.08 L263.00,222.86 L264.00,222.64 L265.00,222.42 L266.00,222.20 L267.00,221.99 L268.00,221.78 L269.00,221.56 L270.00,221.35 L271.00,221.14 L272.00,220.93 L273.00,220.72 L274.00,220.52 L275.00,220.31 L276.00,220.11 L277.00,219.91 L278.00,219.70 L279.00,219.50 L280.00,219.30 L281.00,219.10 L282.00,218.91 L283.00,218.71 L284.00,218.52 L285.00,218.32 L286.00,218.13 L287.00,217.94 L288.00,217.75 L289.00,217.56 L290.00,217.37 L291.00,217.18 L292.00,216.99 L293.00,216.81 L294.00,216.63 L295.00,216.44 L296.00,216.26 L297.00,216.08 L298.00,215.90 L299.00,215.72 L300.00,215.54 L301.00,215.37 L302.00,215.19 L303.00,215.02 L304.00,214.84 L305.00,214.67 L306.00,214.50 L307.00,214.33 L308.00,214.16 L309.00,213.99 L310.00,213.82 L311.00,213.65 L312.00,213.49 L313.00,213.32 L314.00,213.16 L315.00,213.00 L316.00,212.83 L317.00,212.67 L318.00,212.51 L319.00,212.35 L320.00,212.20 L321.00,212.04 L322.00,211.88 L323.00,211.73 L324.00,211.57 L325.00,211.42 L326.00,211.27 L327.00,211.11 L328.00,210.96 L329.00,210.81 L330.00,210.66 L331.00,210.52 L332.00,210.37 L333.00,210.22 L334.00,210.08 L335.00,209.93 L336.00,209.79 L337.00,209.64 L338.00,209.50 L339.00,209.36 L340.00,209.22 L341.00,209.08 L342.00,208.94 L343.00,208.80 L344.00,208.66 L345.00,208.53 L346.00,208.39 L347.00,208.26 L348.00,208.12 L349.00,207.99 L350.00,207.85 L351.00,207.72 L352.00,207.59 L353.00,207.46 L354.00,207.33 L355.00,207.20 L356.00,207.07 L357.00,206.95 L358.00,206.82 L359.00,206.69 L360.00,206.57 L361.00,206.44 L362.00,206.32 L363.00,206.20 L364.00,206.07 L365.00,205.95 L366.00,205.83 L367.00,205.71 L368.00,205.59 L369.00,205.47 L370.00,205.35 L371.00,205.24 L372.00,205.12 L373.00,205.00 L374.00,204.89 L375.00,204.77 L376.00,204.66 L377.00,204.55 L378.00,204.43 L379.00,204.32 L380.00,204.21 L381.00,204.10 L382.00,203.99 L383.00,203.88 L384.00,203.77 L385.00,203.66 L386.00,203.55 L387.00,203.44 L388.00,203.34 L389.00,203.23 L390.00,203.13 L391.00,203.02 L392.00,202.92 L393.00,202.81 L394.00,202.71 L395.00,202.61 L396.00,202.50 L397.00,202.40 L398.00,202.30 L399.00,202.20 L400.00,202.10 L401.00,202.00 L402.00,201.90 L403.00,201.81 L404.00,201.71 L405.00,201.61 L406.00,201.52 L407.00,201.42 L408.00,201.32 L409.00,201.23 L410.00,201.13 L411.00,201.04 L412.00,200.95 L413.00,200.85 L414.00,200.76 L415.00,200.67 L416.00,200.58 L417.00,200.49 L418.00,200.40 L419.00,200.31 L420.00,200.22 L421.00,200.13 L422.00,200.04 L423.00,199.95 L424.00,199.87 L425.00,199.78 L426.00,199.69 L427.00,199.61 L428.00,199.52 L429.00,199.44 L430.00,199.35 L431.00,199.27 L432.00,199.19 L433.00,199.10 L434.00,199.02 L435.00,198.94 L436.00,198.86 L437.00,198.77 L438.00,198.69 L439.00,198.61 L440.00,198.53 L441.00,198.45 L442.00,198.37 L443.00,198.30 L444.00,198.22 L445.00,198.14 L446.00,198.06 L447.00,197.98 L448.00,197.91 L449.00,197.83 L450.00,197.76 L451.00,197.68 L452.00,197.61 L453.00,197.53 L454.00,197.46 L455.00,197.38 L456.00,197.31 L457.00,197.24 L458.00,197.16 L459.00,197.09 L460.00,197.02 L461.00,196.95 L462.00,196.88 L463.00,196.81 L464.00,196.74 L465.00,196.67 L466.00,196.60 L467.00,196.53 L468.00,196.46 L469.00,196.39 L470.00,196.32 L471.00,196.25 L472.00,196.19 L473.00,196.12 L474.00,196.05 L475.00,195.98 L476.00,195.92 L477.00,195.85 L478.00,195.79 L479.00,195.72 L480.00,195.66 L481.00,195.59 L482.00,195.53 L483.00,195.46 L484.00,195.40 L485.00,195.34 L486.00,195.28 L487.00,195.21 L488.00,195.15 L489.00,195.09 L490.00,195.03 L491.00,194.97 L492.00,194.90 L493.00,194.84 L494.00,194.78 L495.00,194.72 L496.00,194.66 L497.00,194.60 L498.00,194.55 L499.00,194.49 L500.00,194.43 L501.00,194.37 L502.00,194.31 L503.00,194.25 L504.00,194.20 L505.00,194.14 L506.00,194.08 L507.00,194.03 L508.00,193.97 L509.00,193.91 L510.00,193.86 L511.00,193.80 L512.00,193.75 L513.00,193.69 L514.00,193.64 L515.00,193.59 L516.00,193.53 L517.00,193.48 L518.00,193.42 L519.00,193.37 L520.00,193.32 L521.00,193.27 L522.00,193.21 L523.00,193.16 L524.00,193.11 L525.00,193.06 L526.00,193.01 L527.00,192.95 L528.00,192.90 L529.00,192.85 L530.00,192.80 L531.00,192.75 L532.00,192.70 L533.00,192.65 L534.00,192.60 L535.00,192.55 L536.00,192.50 L537.00,192.46 L538.00,192.41 L539.00,192.36 L540.00,192.31 L541.00,192.26 L542.00,192.22 L543.00,192.17 L544.00,192.12 L545.00,192.07 L546.00,192.03 L547.00,191.98 L548.00,191.94 L549.00,191.89 L550.00,191.84 L551.00,191.80 L552.00,191.75 L553.00,191.71 L554.00,191.66 L555.00,191.62 L556.00,191.57 L557.00,191.53 L558.00,191.48 L559.00,191.44 L560.00,191.40 L561.00,191.35 L562.00,191.31 L563.00,191.27 L564.00,191.22 L565.00,191.18 L566.00,191.14 L567.00,191.10 L568.00,191.06 L569.00,191.01 L570.00,190.97 L571.00,190.93 L572.00,190.89 L573.00,190.85 L574.00,190.81 L575.00,190.77 L576.00,190.73 L577.00,190.69 L578.00,190.65 L579.00,190.61 L580.00,190.57 L581.00,190.53 L582.00,190.49 L583.00,190.45 L584.00,190.41 L585.00,190.37 L586.00,190.33 L587.00,190.29 L588.00,190.25 L589.00,190.22 L590.00,190.18 L591.00,190.14 L592.00,190.10 L593.00,190.06 L594.00,190.03 L595.00,189.99 L596.00,189.95 L597.00,189.92 L598.00,189.88 L599.00,189.84 L600.00,189.81 L601.00,189.77 L602.00,189.73 L603.00,189.70 L604.00,189.66 L605.00,189.63 L606.00,189.59 L607.00,189.56 L608.00,189.52 L609.00,189.49 L610.00,189.45 L611.00,189.42 L612.00,189.38 L613.00,189.35 L614.00,189.32 L615.00,189.28 L616.00,189.25 L617.00,189.21 L618.00,189.18 L619.00,189.15 L620.00,189.11 L621.00,189.08 L622.00,189.05 L623.00,189.01 L624.00,188.98 L625.00,188.95 L626.00,188.92 L627.00,188.89 L628.00,188.85 L629.00,188.82 L630.00,188.79 L631.00,188.76 L632.00,188.73 L633.00,188.69 L634.00,188.66 L635.00,188.63 L636.00,188.60 L637.00,188.57 L638.00,188.54 L639.00,188.51 L640.00,188.48 L641.00,188.45 L642.00,188.42 L643.00,188.39 L644.00,188.36 L645.00,188.33 L646.00,188.30 L647.00,188.27 L648.00,188.24 L649.00,188.21 L650.00,188.18 L651.00,188.15 L652.00,188.12 L653.00,188.09 L654.00,188.07 L655.00,188.04 L656.00,188.01 L657.00,187.98 L658.00,187.95 L659.00,187.92 L660.00,187.90 L661.00,187.87 L662.00,187.84 L663.00,187.81 L664.00,187.79 L665.00,187.76 L666.00,187.73 L667.00,187.70 L668.00,187.68 L669.00,187.65 L670.00,187.62 L671.00,187.60 L672.00,187.57 L673.00,187.54 L674.00,187.52 L675.00,187.49 L676.00,187.46 L677.00,187.44 L678.00,187.41 L679.00,187.39 L680.00,187.36 L681.00,187.34 L682.00,187.31 L683.00,187.28 L684.00,187.26 L685.00,187.23 L686.00,187.21 L687.00,187.18 L688.00,187.16 L689.00,187.13 L690.00,187.11 L691.00,187.09 L692.00,187.06 L693.00,187.04 L694.00,187.01 L695.00,186.99 L696.00,186.96 L697.00,186.94 L698.00,186.92 L699.00,186.89 L700.00,186.87 L701.00,186.84 L702.00,186.82 L703.00,186.80 L704.00,186.77 L705.00,186.75 L706.00,186.73 L707.00,186.71 L708.00,186.68 L709.00,186.66 L710.00,186.64 L711.00,186.61 L712.00,186.59 L713.00,186.57 L714.00,186.55 L715.00,186.52 L716.00,186.50 L717.00,186.48 L718.00,186.46 L719.00,186.44 L720.00,186.41 L721.00,186.39 L722.00,186.37 L723.00,186.35 L724.00,186.33 L725.00,186.31 L726.00,186.28 L727.00,186.26 L728.00,186.24 L729.00,186.22 L730.00,186.20 L731.00,186.18 L732.00,186.16 L733.00,186.14 L734.00,186.12 L735.00,186.10 L736.00,186.08 L737.00,186.06 L738.00,186.03 L739.00,186.01 L740.00,185.99 L741.00,185.97 L742.00,185.95 L743.00,185.93 L744.00,185.91 L745.00,185.89 L746.00,185.87 L747.00,185.86 L748.00,185.84 L749.00,185.82 L750.00,185.80 L751.00,185.78 L752.00,185.76 L753.00,185.74 L754.00,185.72 L755.00,185.70 L756.00,185.68 L757.00,185.66 L758.00,185.64 L759.00,185.62 L760.00,185.61 L761.00,185.59 L762.00,185.57 L763.00,185.55 L764.00,185.53 L765.00,185.51 L766.00,185.50 L767.00,185.48 L768.00,185.46 L769.00,185.44 L770.00,185.42 L771.00,185.40 L772.00,185.39 L773.00,185.37 L774.00,185.35 L775.00,185.33 L776.00,185.32 L777.00,185.30 L778.00,185.28 L779.00,185.26 L780.00,185.25 L781.00,185.23 L782.00,185.21" stroke="#ff0000" stroke-width="0.86" stroke-dasharray="6.25 5.125" stroke-dashoffset="2.4"/>
<path d="M223.42,412.97 L224.00,410.96 L225.00,407.55 L226.00,404.20 L227.00,400.91 L228.00,397.68 L229.00,394.52 L230.00,391.41 L231.00,388.36 L232.00,385.36 L233.00,382.42 L234.00,379.53 L235.00,376.69 L236.00,373.91 L237.00,371.17 L238.00,368.48 L239.00,365.84 L240.00,363.24 L241.00,360.69 L242.00,358.19 L243.00,355.73 L244.00,353.31 L245.00,350.93 L246.00,348.59 L247.00,346.30 L248.00,344.04 L249.00,341.82 L250.00,339.64 L251.00,337.49 L252.00,335.38 L253.00,333.31 L254.00,331.26 L255.00,329.26 L256.00,327.28 L257.00,325.34 L258.00,323.43 L259.00,321.55 L260.00,319.70 L261.00,317.89 L262.00,316.10 L263.00,314.33 L264.00,312.60 L265.00,310.90 L266.00,309.22 L267.00,307.57 L268.00,305.94 L269.00,304.34 L270.00,302.76 L271.00,301.21 L272.00,299.69 L273.00,298.18 L274.00,296.70 L275.00,295.24 L276.00,293.81 L277.00,292.39 L278.00,291.00 L279.00,289.63 L280.00,288.28 L281.00,286.95 L282.00,285.64 L283.00,284.35 L284.00,283.07 L285.00,281.82 L286.00,280.59 L287.00,279.37 L288.00,278.17 L289.00,276.99 L290.00,275.82 L291.00,274.68 L292.00,273.55 L293.00,272.43 L294.00,271.33 L295.00,270.25 L296.00,269.18 L297.00,268.13 L298.00,267.09 L299.00,266.07 L300.00,265.06 L301.00,264.07 L302.00,263.09 L303.00,262.12 L304.00,261.17 L305.00,260.23 L306.00,259.30 L307.00,258.39 L308.00,257.49 L309.00,256.60 L310.00,255.72 L311.00,254.85 L312.00,254.00 L313.00,253.16 L314.00,252.33 L315.00,251.51 L316.00,250.70 L317.00,249.90 L318.00,249.12 L319.00,248.34 L320.00,247.57 L321.00,246.82 L322.00,246.07 L323.00,245.33 L324.00,244.61 L325.00,243.89 L326.00,243.18 L327.00,242.48 L328.00,241.79 L329.00,241.11 L330.00,240.44 L331.00,239.78 L332.00,239.12 L333.00,238.48 L334.00,237.84 L335.00,237.21 L336.00,236.59 L337.00,235.97 L338.00,235.36 L339.00,234.77 L340.00,234.17 L341.00,233.59 L342.00,233.01 L343.00,232.44 L344.00,231.88 L345.00,231.33 L346.00,230.78 L347.00,230.24 L348.00,229.70 L349.00,229.17 L350.00,228.65 L351.00,228.13 L352.00,227.62 L353.00,227.12 L354.00,226.62 L355.00,226.13 L356.00,225.65 L357.00,225.17 L358.00,224.69 L359.00,224.23 L360.00,223.76 L361.00,223.31 L362.00,222.85 L363.00,222.41 L364.00,221.97 L365.00,221.53 L366.00,221.10 L367.00,220.68 L368.00,220.26 L369.00,219.84 L370.00,219.43 L371.00,219.02 L372.00,218.62 L373.00,218.22 L374.00,217.83 L375.00,217.45 L376.00,217.06 L377.00,216.68 L378.00,216.31 L379.00,215.94 L380.00,215.57 L381.00,215.21 L382.00,214.85 L383.00,214.50 L384.00,214.15 L385.00,213.81 L386.00,213.46 L387.00,213.13 L388.00,212.79 L389.00,212.46 L390.00,212.13 L391.00,211.81 L392.00,211.49 L393.00,211.18 L394.00,210.86 L395.00,210.56 L396.00,210.25 L397.00,209.95 L398.00,209.65 L399.00,209.35 L400.00,209.06 L401.00,208.77 L402.00,208.49 L403.00,208.20 L404.00,207.92 L405.00,207.65 L406.00,207.37 L407.00,207.10 L408.00,206.84 L409.00,206.57 L410.00,206.31 L411.00,206.05 L412.00,205.79 L413.00,205.54 L414.00,205.29 L415.00,205.04 L416.00,204.79 L417.00,204.55 L418.00,204.31 L419.00,204.07 L420.00,203.84 L421.00,203.60 L422.00,203.37 L423.00,203.15 L424.00,202.92 L425.00,202.70 L426.00,202.48 L427.00,202.26 L428.00,202.04 L429.00,201.83 L430.00,201.61 L431.00,201.40 L432.00,201.20 L433.00,200.99 L434.00,200.79 L435.00,200.59 L436.00,200.39 L437.00,200.19 L438.00,200.00 L439.00,199.80 L440.00,199.61 L441.00,199.42 L442.00,199.24 L443.00,199.05 L444.00,198.87 L445.00,198.69 L446.00,198.51 L447.00,198.33 L448.00,198.15 L449.00,197.98 L450.00,197.80 L451.00,197.63 L452.00,197.46 L453.00,197.30 L454.00,197.13 L455.00,196.97 L456.00,196.80 L457.00,196.64 L458.00,196.48 L459.00,196.33 L460.00,196.17 L461.00,196.02 L462.00,195.86 L463.00,195.71 L464.00,195.56 L465.00,195.41 L466.00,195.27 L467.00,195.12 L468.00,194.98 L469.00,194.83 L470.00,194.69 L471.00,194.55 L472.00,194.41 L473.00,194.28 L474.00,194.14 L475.00,194.01 L476.00,193.87 L477.00,193.74 L478.00,193.61 L479.00,193.48 L480.00,193.35 L481.00,193.23 L482.00,193.10 L483.00,192.98 L484.00,192.85 L485.00,192.73 L486.00,192.61 L487.00,192.49 L488.00,192.37 L489.00,192.25 L490.00,192.14 L491.00,192.02 L492.00,191.91 L493.00,191.80 L494.00,191.68 L495.00,191.57 L496.00,191.46 L497.00,191.35 L498.00,191.25 L499.00,191.14 L500.00,191.03 L501.00,190.93 L502.00,190.83 L503.00,190.72 L504.00,190.62 L505.00,190.52 L506.00,190.42 L507.00,190.32 L508.00,190.22 L509.00,190.13 L510.00,190.03 L511.00,189.94 L512.00,189.84 L513.00,189.75 L514.00,189.65 L515.00,189.56 L516.00,189.47 L517.00,189.38 L518.00,189.29 L519.00,189.20 L520.00,189.12 L521.00,189.03 L522.00,188.94 L523.00,188.86 L524.00,188.78 L525.00,188.69 L526.00,188.61 L527.00,188.53 L528.00,188.45 L529.00,188.37 L530.00,188.29 L531.00,188.21 L532.00,188.13 L533.00,188.05 L534.00,187.97 L535.00,187.90 L536.00,187.82 L537.00,187.75 L538.00,187.67 L539.00,187.60 L540.00,187.53 L541.00,187.46 L542.00,187.38 L543.00,187.31 L544.00,187.24 L545.00,187.17 L546.00,187.11 L547.00,187.04 L548.00,186.97 L549.00,186.90 L550.00,186.84 L551.00,186.77 L552.00,186.71 L553.00,186.64 L554.00,186.58 L555.00,186.51 L556.00,186.45 L557.00,186.39 L558.00,186.33 L559.00,186.27 L560.00,186.21 L561.00,186.15 L562.00,186.09 L563.00,186.03 L564.00,185.97 L565.00,185.91 L566.00,185.86 L567.00,185.80 L568.00,185.74 L569.00,185.69 L570.00,185.63 L571.00,185.58 L572.00,185.52 L573.00,185.47 L574.00,185.42 L575.00,185.36 L576.00,185.31 L577.00,185.26 L578.00,185.21 L579.00,185.16 L580.00,185.11 L581.00,185.06 L582.00,185.01 L583.00,184.96 L584.00,184.91 L585.00,184.86 L586.00,184.81 L587.00,184.77 L588.00,184.72 L589.00,184.67 L590.00,184.63 L591.00,184.58 L592.00,184.54 L593.00,184.49 L594.00,184.45 L595.00,184.40 L596.00,184.36 L597.00,184.32 L598.00,184.27 L599.00,184.23 L600.00,184.19 L601.00,184.15 L602.00,184.11 L603.00,184.07 L604.00,184.03 L605.00,183.99 L606.00,183.95 L607.00,183.91 L608.00,183.87 L609.00,183.83 L610.00,183.79 L611.00,183.75 L612.00,183.72 L613.00,183.68 L614.00,183.64 L615.00,183.60 L616.00,183.57 L617.00,183.53 L618.00,183.50 L619.00,183.46 L620.00,183.43 L621.00,183.39 L622.00,183.36 L623.00,183.32 L624.00,183.29 L625.00,183.26 L626.00,183.22 L627.00,183.19 L628.00,183.16 L629.00,183.13 L630.00,183.09 L631.00,183.06 L632.00,183.03 L633.00,183.00 L634.00,182.97 L635.00,182.94 L636.00,182.91 L637.00,182.88 L638.00,182.85 L639.00,182.82 L640.00,182.79 L641.00,182.76 L642.00,182.73 L643.00,182.71 L644.00,182.68 L645.00,182.65 L646.00,182.62 L647.00,182.59 L648.00,182.57 L649.00,182.54 L650.00,182.51 L651.00,182.49 L652.00,182.46 L653.00,182.44 L654.00,182.41 L655.00,182.39 L656.00,182.36 L657.00,182.34 L658.00,182.31 L659.00,182.29 L660.00,182.26 L661.00,182.24 L662.00,182.21 L663.00,182.19 L664.00,182.17 L665.00,182.15 L666.00,182.12 L667.00,182.10 L668.00,182.08 L669.00,182.06 L670.00,182.03 L671.00,182.01 L672.00,181.99 L673.00,181.97 L674.00,181.95 L675.00,181.93 L676.00,181.91 L677.00,181.89 L678.00,181.86 L679.00,181.84 L680.00,181.82 L681.00,181.80 L682.00,181.79 L683.00,181.77 L684.00,181.75 L685.00,181.73 L686.00,181.71 L687.00,181.69 L688.00,181.67 L689.00,181.65 L690.00,181.64 L691.00,181.62 L692.00,181.60 L693.00,181.58 L694.00,181.56 L695.00,181.55 L696.00,181.53 L697.00,181.51 L698.00,181.50 L699.00,181.48 L700.00,181.46 L701.00,181.45 L702.00,181.43 L703.00,181.42 L704.00,181.40 L705.00,181.38 L706.00,181.37 L707.00,181.35 L708.00,181.34 L709.00,181.32 L710.00,181.31 L711.00,181.29 L712.00,181.28 L713.00,181.26 L714.00,181.25 L715.00,181.24 L716.00,181.22 L717.00,181.21 L718.00,181.19 L719.00,181.18 L720.00,181.17 L721.00,181.15 L722.00,181.14 L723.00,181.13 L724.00,181.12 L725.00,181.10 L726.00,181.09 L727.00,181.08 L728.00,181.07 L729.00,181.05 L730.00,181.04 L731.00,181.03 L732.00,181.02 L733.00,181.01 L734.00,180.99 L735.00,180.98 L736.00,180.97 L737.00,180.96 L738.00,180.95 L739.00,180.94 L740.00,180.93 L741.00,180.92 L742.00,180.91 L743.00,180.90 L744.00,180.89 L745.00,180.88 L746.00,180.87 L747.00,180.86 L748.00,180.85 L749.00,180.84 L750.00,180.83 L751.00,180.82 L752.00,180.81 L753.00,180.80 L754.00,180.79 L755.00,180.78 L756.00,180.77 L757.00,180.76 L758.00,180.75 L759.00,180.74 L760.00,180.74 L761.00,180.73 L762.00,180.72 L763.00,180.71 L764.00,180.70 L765.00,180.69 L766.00,180.69 L767.00,180.68 L768.00,180.67 L769.00,180.66 L770.00,180.65 L771.00,180.65 L772.00,180.64 L773.00,180.63 L774.00,180.62 L775.00,180.62 L776.00,180.61 L777.00,180.60 L778.00,180.60 L779.00,180.59 L780.00,180.58 L781.00,180.58 L782.00,180.57" stroke="#0000ff" stroke-width="0.86" stroke-dasharray="6.25 5.125"/>
<path d="M242.48,412.99 L243.00,411.28 L244.00,408.03 L245.00,404.84 L246.00,401.70 L247.00,398.62 L248.00,395.59 L249.00,392.62 L250.00,389.69 L251.00,386.81 L252.00,383.99 L253.00,381.21 L254.00,378.47 L255.00,375.79 L256.00,373.14 L257.00,370.55 L258.00,367.99 L259.00,365.48 L260.00,363.01 L261.00,360.58 L262.00,358.18 L263.00,355.83 L264.00,353.52 L265.00,351.24 L266.00,349.00 L267.00,346.80 L268.00,344.63 L269.00,342.50 L270.00,340.40 L271.00,338.33 L272.00,336.30 L273.00,334.30 L274.00,332.33 L275.00,330.39 L276.00,328.48 L277.00,326.60 L278.00,324.75 L279.00,322.93 L280.00,321.14 L281.00,319.37 L282.00,317.63 L283.00,315.92 L284.00,314.23 L285.00,312.57 L286.00,310.94 L287.00,309.32 L288.00,307.74 L289.00,306.17 L290.00,304.63 L291.00,303.12 L292.00,301.62 L293.00,300.15 L294.00,298.70 L295.00,297.27 L296.00,295.86 L297.00,294.47 L298.00,293.10 L299.00,291.76 L300.00,290.43 L301.00,289.12 L302.00,287.83 L303.00,286.55 L304.00,285.30 L305.00,284.06 L306.00,282.84 L307.00,281.64 L308.00,280.46 L309.00,279.29 L310.00,278.14 L311.00,277.00 L312.00,275.88 L313.00,274.78 L314.00,273.69 L315.00,272.62 L316.00,271.56 L317.00,270.51 L318.00,269.48 L319.00,268.47 L320.00,267.47 L321.00,266.48 L322.00,265.50 L323.00,264.54 L324.00,263.59 L325.00,262.65 L326.00,261.73 L327.00,260.82 L328.00,259.92 L329.00,259.03 L330.00,258.16 L331.00,257.29 L332.00,256.44 L333.00,255.60 L334.00,254.77 L335.00,253.95 L336.00,253.14 L337.00,252.34 L338.00,251.55 L339.00,250.78 L340.00,250.01 L341.00,249.25 L342.00,248.50 L343.00,247.76 L344.00,247.03 L345.00,246.31 L346.00,245.60 L347.00,244.90 L348.00,244.21 L349.00,243.53 L350.00,242.85 L351.00,242.18 L352.00,241.52 L353.00,240.87 L354.00,240.23 L355.00,239.60 L356.00,238.97 L357.00,238.35 L358.00,237.74 L359.00,237.14 L360.00,236.54 L361.00,235.95 L362.00,235.37 L363.00,234.79 L364.00,234.23 L365.00,233.67 L366.00,233.11 L367.00,232.56 L368.00,232.02 L369.00,231.49 L370.00,230.96 L371.00,230.44 L372.00,229.92 L373.00,229.42 L374.00,228.91 L375.00,228.41 L376.00,227.92 L377.00,227.44 L378.00,226.96 L379.00,226.48 L380.00,226.01 L381.00,225.55 L382.00,225.09 L383.00,224.64 L384.00,224.19 L385.00,223.75 L386.00,223.31 L387.00,222.88 L388.00,222.46 L389.00,222.03 L390.00,221.62 L391.00,221.20 L392.00,220.80 L393.00,220.39 L394.00,219.99 L395.00,219.60 L396.00,219.21 L397.00,218.82 L398.00,218.44 L399.00,218.07 L400.00,217.69 L401.00,217.33 L402.00,216.96 L403.00,216.60 L404.00,216.25 L405.00,215.89 L406.00,215.55 L407.00,215.20 L408.00,214.86 L409.00,214.52 L410.00,214.19 L411.00,213.86 L412.00,213.53 L413.00,213.21 L414.00,212.89 L415.00,212.58 L416.00,212.27 L417.00,211.96 L418.00,211.65 L419.00,211.35 L420.00,211.05 L421.00,210.76 L422.00,210.46 L423.00,210.17 L424.00,209.89 L425.00,209.60 L426.00,209.32 L427.00,209.05 L428.00,208.77 L429.00,208.50 L430.00,208.23 L431.00,207.97 L432.00,207.70 L433.00,207.44 L434.00,207.19 L435.00,206.93 L436.00,206.68 L437.00,206.43 L438.00,206.18 L439.00,205.94 L440.00,205.70 L441.00,205.46 L442.00,205.22 L443.00,204.99 L444.00,204.75 L445.00,204.52 L446.00,204.30 L447.00,204.07 L448.00,203.85 L449.00,203.63 L450.00,203.41 L451.00,203.20 L452.00,202.98 L453.00,202.77 L454.00,202.56 L455.00,202.35 L456.00,202.15 L457.00,201.95 L458.00,201.74 L459.00,201.54 L460.00,201.35 L461.00,201.15 L462.00,200.96 L463.00,200.77 L464.00,200.58 L465.00,200.39 L466.00,200.21 L467.00,200.02 L468.00,199.84 L469.00,199.66 L470.00,199.48 L471.00,199.30 L472.00,199.13 L473.00,198.96 L474.00,198.78 L475.00,198.61 L476.00,198.45 L477.00,198.28 L478.00,198.11 L479.00,197.95 L480.00,197.79 L481.00,197.63 L482.00,197.47 L483.00,197.31 L484.00,197.16 L485.00,197.00 L486.00,196.85 L487.00,196.70 L488.00,196.55 L489.00,196.40 L490.00,196.25 L491.00,196.11 L492.00,195.96 L493.00,195.82 L494.00,195.68 L495.00,195.54 L496.00,195.40 L497.00,195.26 L498.00,195.13 L499.00,194.99 L500.00,194.86 L501.00,194.72 L502.00,194.59 L503.00,194.46 L504.00,194.33 L505.00,194.21 L506.00,194.08 L507.00,193.96 L508.00,193.83 L509.00,193.71 L510.00,193.59 L511.00,193.47 L512.00,193.35 L513.00,193.23 L514.00,193.11 L515.00,192.99 L516.00,192.88 L517.00,192.76 L518.00,192.65 L519.00,192.54 L520.00,192.43 L521.00,192.32 L522.00,192.21 L523.00,192.10 L524.00,191.99 L525.00,191.89 L526.00,191.78 L527.00,191.68 L528.00,191.57 L529.00,191.47 L530.00,191.37 L531.00,191.27 L532.00,191.17 L533.00,191.07 L534.00,190.97 L535.00,190.88 L536.00,190.78 L537.00,190.69 L538.00,190.59 L539.00,190.50 L540.00,190.40 L541.00,190.31 L542.00,190.22 L543.00,190.13 L544.00,190.04 L545.00,189.95 L546.00,189.87 L547.00,189.78 L548.00,189.69 L549.00,189.61 L550.00,189.52 L551.00,189.44 L552.00,189.35 L553.00,189.27 L554.00,189.19 L555.00,189.11 L556.00,189.03 L557.00,188.95 L558.00,188.87 L559.00,188.79 L560.00,188.71 L561.00,188.63 L562.00,188.56 L563.00,188.48 L564.00,188.41 L565.00,188.33 L566.00,188.26 L567.00,188.19 L568.00,188.11 L569.00,188.04 L570.00,187.97 L571.00,187.90 L572.00,187.83 L573.00,187.76 L574.00,187.69 L575.00,187.62 L576.00,187.55 L577.00,187.49 L578.00,187.42 L579.00,187.35 L580.00,187.29 L581.00,187.22 L582.00,187.16 L583.00,187.09 L584.00,187.03 L585.00,186.97 L586.00,186.91 L587.00,186.84 L588.00,186.78 L589.00,186.72 L590.00,186.66 L591.00,186.60 L592.00,186.54 L593.00,186.49 L594.00,186.43 L595.00,186.37 L596.00,186.31 L597.00,186.26 L598.00,186.20 L599.00,186.14 L600.00,186.09 L601.00,186.03 L602.00,185.98 L603.00,185.92 L604.00,185.87 L605.00,185.82 L606.00,185.76 L607.00,185.71 L608.00,185.66 L609.00,185.61 L610.00,185.56 L611.00,185.51 L612.00,185.46 L613.00,185.41 L614.00,185.36 L615.00,185.31 L616.00,185.26 L617.00,185.21 L618.00,185.17 L619.00,185.12 L620.00,185.07 L621.00,185.02 L622.00,184.98 L623.00,184.93 L624.00,184.89 L625.00,184.84 L626.00,184.80 L627.00,184.75 L628.00,184.71 L629.00,184.67 L630.00,184.62 L631.00,184.58 L632.00,184.54 L633.00,184.49 L634.00,184.45 L635.00,184.41 L636.00,184.37 L637.00,184.33 L638.00,184.29 L639.00,184.25 L640.00,184.21 L641.00,184.17 L642.00,184.13 L643.00,184.09 L644.00,184.05 L645.00,184.01 L646.00,183.98 L647.00,183.94 L648.00,183.90 L649.00,183.86 L650.00,183.83 L651.00,183.79 L652.00,183.75 L653.00,183.72 L654.00,183.68 L655.00,183.65 L656.00,183.61 L657.00,183.58 L658.00,183.54 L659.00,183.51 L660.00,183.47 L661.00,183.44 L662.00,183.41 L663.00,183.37 L664.00,183.34 L665.00,183.31 L666.00,183.28 L667.00,183.24 L668.00,183.21 L669.00,183.18 L670.00,183.15 L671.00,183.12 L672.00,183.09 L673.00,183.06 L674.00,183.02 L675.00,182.99 L676.00,182.96 L677.00,182.94 L678.00,182.91 L679.00,182.88 L680.00,182.85 L681.00,182.82 L682.00,182.79 L683.00,182.76 L684.00,182.73 L685.00,182.71 L686.00,182.68 L687.00,182.65 L688.00,182.62 L689.00,182.60 L690.00,182.57 L691.00,182.54 L692.00,182.52 L693.00,182.49 L694.00,182.46 L695.00,182.44 L696.00,182.41 L697.00,182.39 L698.00,182.36 L699.00,182.34 L700.00,182.31 L701.00,182.29 L702.00,182.26 L703.00,182.24 L704.00,182.21 L705.00,182.19 L706.00,182.17 L707.00,182.14 L708.00,182.12 L709.00,182.10 L710.00,182.07 L711.00,182.05 L712.00,182.03 L713.00,182.01 L714.00,181.98 L715.00,181.96 L716.00,181.94 L717.00,181.92 L718.00,181.90 L719.00,181.87 L720.00,181.85 L721.00,181.83 L722.00,181.81 L723.00,181.79 L724.00,181.77 L725.00,181.75 L726.00,181.73 L727.00,181.71 L728.00,181.69 L729.00,181.67 L730.00,181.65 L731.00,181.63 L732.00,181.61 L733.00,181.59 L734.00,181.57 L735.00,181.55 L736.00,181.53 L737.00,181.52 L738.00,181.50 L739.00,181.48 L740.00,181.46 L741.00,181.44 L742.00,181.43 L743.00,181.41 L744.00,181.39 L745.00,181.37 L746.00,181.35 L747.00,181.34 L748.00,181.32 L749.00,181.30 L750.00,181.29 L751.00,181.27 L752.00,181.25 L753.00,181.24 L754.00,181.22 L755.00,181.20 L756.00,181.19 L757.00,181.17 L758.00,181.16 L759.00,181.14 L760.00,181.12 L761.00,181.11 L762.00,181.09 L763.00,181.08 L764.00,181.06 L765.00,181.05 L766.00,181.03 L767.00,181.02 L768.00,181.00 L769.00,180.99 L770.00,180.97 L771.00,180.96 L772.00,180.95 L773.00,180.93 L774.00,180.92 L775.00,180.90 L776.00,180.89 L777.00,180.88 L778.00,180.86 L779.00,180.85 L780.00,180.84 L781.00,180.82 L782.00,180.81" stroke="#00cc4d" stroke-width="0.86" stroke-dasharray="6.25 5.125"/>
</g>
<rect x="171.5" y="35.5" width="609.0" height="377.0" fill="none" stroke="#969696" stroke-width="1"/>
<path d="M171.50,412.5v-5.6M171.50,35.5v5.6M209.56,412.5v-3.2M209.56,35.5v3.2M247.62,412.5v-3.2M247.62,35.5v3.2M285.69,412.5v-3.2M285.69,35.5v3.2M323.75,412.5v-5.6M323.75,35.5v5.6M361.81,412.5v-3.2M361.81,35.5v3.2M399.88,412.5v-3.2M399.88,35.5v3.2M437.94,412.5v-3.2M437.94,35.5v3.2M476.00,412.5v-5.6M476.00,35.5v5.6M514.06,412.5v-3.2M514.06,35.5v3.2M552.12,412.5v-3.2M552.12,35.5v3.2M590.19,412.5v-3.2M590.19,35.5v3.2M628.25,412.5v-5.6M628.25,35.5v5.6M666.31,412.5v-3.2M666.31,35.5v3.2M704.38,412.5v-3.2M704.38,35.5v3.2M742.44,412.5v-3.2M742.44,35.5v3.2M780.50,412.5v-5.6M780.50,35.5v5.6M171.5,412.12h3.2M780.5,412.12h-3.2M171.5,388.56h3.2M780.5,388.56h-3.2M171.5,365.00h5.6M780.5,365.00h-5.6M171.5,341.44h3.2M780.5,341.44h-3.2M171.5,317.88h3.2M780.5,317.88h-3.2M171.5,294.31h3.2M780.5,294.31h-3.2M171.5,270.75h5.6M780.5,270.75h-5.6M171.5,247.19h3.2M780.5,247.19h-3.2M171.5,223.62h3.2M780.5,223.62h-3.2M171.5,200.06h3.2M780.5,200.06h-3.2M171.5,176.50h5.6M780.5,176.50h-5.6M171.5,152.94h3.2M780.5,152.94h-3.2M171.5,129.38h3.2M780.5,129.38h-3.2M171.5,105.81h3.2M780.5,105.81h-3.2M171.5,82.25h5.6M780.5,82.25h-5.6M171.5,58.69h3.2M780.5,58.69h-3.2M171.5,35.12h3.2M780.5,35.12h-3.2" stroke="#8c8c8c" stroke-width="1" fill="none"/>
<g>
<text transform="translate(337.6,27.2) rotate(0.03) scale(0.9938,1)" font-size="35.0">T</text>
<text transform="translate(356.54,27.2) rotate(0.03) scale(1.0651,1)" font-size="33.6">ype</text>
<text transform="translate(416.25,27.2) rotate(0.03) scale(1.0228,1)" font-size="35.0">II</text>
<text transform="translate(481.77,27.2) rotate(0.03) scale(0.9962,1)" font-size="33.6">tan</text>
<text transform="translate(521.27,26.75) rotate(0.03) scale(1.1492,1)" font-size="33.1" font-style="italic">β</text>
<text transform="translate(579.09,27.25) rotate(0.03) scale(1.006,1)" font-size="34.9">50</text>
<text transform="translate(150.1,438.3) rotate(0.03) scale(0.9841,1)" font-size="29.3">200</text>
<text transform="translate(301.92,438.3) rotate(0.03) scale(0.9907,1)" font-size="29.3">400</text>
<text transform="translate(454.61,438.3) rotate(0.03) scale(0.9769,1)" font-size="29.3">600</text>
<text transform="translate(607.46,438.3) rotate(0.03) scale(0.971,1)" font-size="29.3">800</text>
<text transform="translate(752.95,438.3) rotate(0.03) scale(0.9673,1)" font-size="29.3">1000</text>
<text transform="translate(56.03,92.7) rotate(0.03) scale(1.0481,1)" font-size="29.1">2</text>
<text transform="translate(106.17,92.7) rotate(0.03) scale(0.7364,1)" font-size="29.1">1</text>
<text transform="translate(118.26,92.7) rotate(0.03) scale(1.0637,1)" font-size="29.1">0</text>
<text transform="translate(146.18,81.75) rotate(0.03) scale(0.9466,1)" font-size="20.5">27</text>
<text transform="translate(56.03,280.8) rotate(0.03) scale(1.0481,1)" font-size="29.1">2</text>
<text transform="translate(106.17,280.8) rotate(0.03) scale(0.7364,1)" font-size="29.1">1</text>
<text transform="translate(118.26,280.8) rotate(0.03) scale(1.0637,1)" font-size="29.1">0</text>
<text transform="translate(146.18,269.85) rotate(0.03) scale(0.9466,1)" font-size="20.5">27</text>
<text transform="translate(56.55,375.0) rotate(0.03) scale(0.9386,1)" font-size="29.1">4</text>
<text transform="translate(106.17,375.0) rotate(0.03) scale(0.7364,1)" font-size="29.1">1</text>
<text transform="translate(118.26,375.0) rotate(0.03) scale(1.0637,1)" font-size="29.1">0</text>
<text transform="translate(146.18,364.05) rotate(0.03) scale(0.9466,1)" font-size="20.5">27</text>
<text transform="translate(152.66,184.1) rotate(0.03) scale(1.0637,1)" font-size="29.1">0</text>
<text transform="translate(409.48,474.85) rotate(0.03) scale(0.9856,1)" font-size="28.5" font-style="italic">M</text>
<text transform="translate(433.69,479.55) rotate(0.03) scale(0.9534,1)" font-size="20.3" font-style="italic">H</text>
<text transform="translate(470.49,474.9) rotate(0.03) scale(0.9688,1)" font-size="29.1">[GeV]</text>
</g>
<g transform="rotate(-90)">
<text transform="translate(-276.85,21.7) rotate(0.03) scale(1.0035,1)" font-size="28.2" font-style="italic">d</text>
<text transform="translate(-262.41,25.5) rotate(0.03) scale(0.9881,1)" font-size="20.5" font-style="italic">e</text>
<text transform="translate(-243.05,21.2) rotate(0.03) scale(0.971,1)" font-size="27.0">e</text>
<text transform="translate(-223.64,22.4) rotate(0.03) scale(0.8753,1)" font-size="29.6">[</text>
<text transform="translate(-214.93,21.4) rotate(0.03) scale(0.9506,1)" font-size="27.0">cm</text>
<text transform="translate(-180.26,22.4) rotate(0.03) scale(0.8258,1)" font-size="29.6">]</text>
</g>
<g stroke="#000" fill="none">
<path d="M84.4,78.15L97.9,92.05M97.9,78.15L84.4,92.05" stroke-width="1.35"/>
<path d="M134.2,75.85h10.4" stroke-width="1.25"/>
<circle cx="74.55" cy="91.20" r="1.5" fill="#000" stroke="none"/>
<path d="M84.4,266.25L97.9,280.15M97.9,266.25L84.4,280.15" stroke-width="1.35"/>
<path d="M134.2,263.95h10.4" stroke-width="1.25"/>
<circle cx="74.55" cy="279.30" r="1.5" fill="#000" stroke="none"/>
<path d="M84.4,360.45L97.9,374.35M97.9,360.45L84.4,374.35" stroke-width="1.35"/>
<path d="M134.2,358.15h10.4" stroke-width="1.25"/>
<circle cx="74.55" cy="373.50" r="1.5" fill="#000" stroke="none"/>
<path d="M39.1,273.30h14.0" stroke-width="1.35"/>
<path d="M39.1,367.50h14.0" stroke-width="1.35"/>
<path d="M450.6,474.1h10.2M455.7,469.6v9.3" stroke-width="1.3"/>
<path d="M551.6,15.0h17.3M551.6,21.9h17.3" stroke-width="1.9"/>
<path d="M25.4,252.3L2.5,244.3" stroke-width="1.35"/>
</g>
</svg>
</body></html>
